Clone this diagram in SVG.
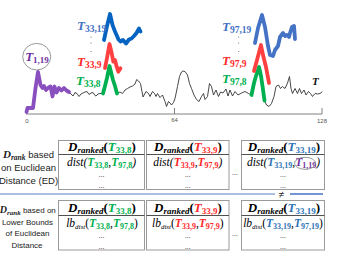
<svg xmlns="http://www.w3.org/2000/svg" width="344" height="255" viewBox="0 0 344 255">
<style>
.ser{font-family:"Liberation Serif","DejaVu Serif",serif}
.sans{font-family:"Liberation Sans",Arial,sans-serif}
.bi{font-weight:bold;font-style:italic}
.b{font-weight:bold}
.i{font-style:italic}
.g{fill:#00b050}
.r{fill:#ff2a2a}
.bl{fill:#2e75b6}
.pu{fill:#7030a0}
.ts{fill:none;stroke-linejoin:round;stroke-linecap:round}
.box{fill:#fff;stroke:#9a9a9a;stroke-width:1}
.sep{stroke:#505050;stroke-width:1}
.dots{font-family:"Liberation Serif",serif;font-size:8px;fill:#333;text-anchor:middle}
.lbl{font-family:"Liberation Sans",Arial,sans-serif;font-size:9.5px;fill:#222;text-anchor:middle}
.lbl2{font-family:"Liberation Sans",Arial,sans-serif;font-size:8px;fill:#222;text-anchor:middle}
.ax{font-family:"Liberation Sans",Arial,sans-serif;font-size:6px;fill:#555;text-anchor:middle}
.hd{font-size:13px}
.row{font-size:11.5px}
</style>
<rect width="344" height="255" fill="#fff"/>

<g id="axis">
<line x1="26" y1="114" x2="322" y2="114" stroke="#808080" stroke-width="1"/>
<line x1="174.5" y1="108" x2="174.5" y2="114" stroke="#808080" stroke-width="1"/>
<line x1="322" y1="108" x2="322" y2="114" stroke="#808080" stroke-width="1"/>
<text class="ax" x="27" y="123">0</text>
<text class="ax" x="174.5" y="122">64</text>
<text class="ax" x="322" y="123">128</text>
</g>

<g id="series-T">
<polyline class="ts" stroke="#333" stroke-width="0.9" points="69,92 71,94 73,96 75,92.5 77,93.5 79,96.5 81,94 83,93 85,92 87,91.5 89,94.5 91,93 93,92.5 95,95.5 96,96 98,94 100,93.5 103,93.5 105.5,84 107,78 109.5,66 111,72 113,80 115,86 117,93.5 120,92 122.5,93.5 125,90 127.5,88.5 130,87 132.5,86 135,84 136.7,79.5 138.5,81 140.5,83.5 143,97 146,91.5 148.5,93.5 150,96.5 152.5,91.5 154.5,93.5 156,96.5 157.5,93.5 160,97.5 162.5,95 165,101.5 166.5,106.5 168.5,101.5 170,103 171.5,105 173.5,102.5 175,98.5 177.5,86.5 179.5,76.5 181.5,72 183,71 185,71.5 187.5,75 189.5,83.5 191.5,88.5 194,95 196.5,99.5 199,101.5 201.5,96.5 203.5,93.5 205,99.5 207.5,96.5 209.5,83.5 211.5,86.5 213.5,95 216,90 218.5,96.5 220.5,92 223,93 226,89 228,96 230,90 232.5,96 235,91.5 238,95 241.5,93 245,91.5 248.5,93.5 251.5,95 254,83 256,76 259,67 261,76 262.5,86 264.5,100.5 266.5,105 269,106.5 271.5,103.5 274,96.5 276,86.5 278.5,85 280.5,88.5 282.5,86.5 285,88.5 287.5,83 289.5,76.5 291,88.5 292.5,93.5 295,88.5 297.5,93.5 299.5,88.5 301.5,93.5 304,90 306,95 308.5,91.5 310.5,93.5 312.5,96.5 315,93.5 317.5,94 320,93.5 322,92"/>
<text class="ser bi" x="312" y="85" font-size="11" fill="#111">T</text>
</g>

<g id="T1_19">
<polyline class="ts" stroke="#8a4fbf" stroke-width="3.8" points="26.5,112 27.5,108 33,108 35.5,88 38,72 40.5,85 42.5,88 44,86 46,90 48.5,87.5 50.5,86.5 52.5,96.5 54.5,86.5 56.5,92.5 59,88 61.5,90.5 64,88 66.5,90.5 69,92"/>
<ellipse cx="36.7" cy="56.7" rx="14" ry="13.3" fill="none" stroke="#7f7f7f" stroke-width="0.8"/>
<text class="ser" x="37" y="61" text-anchor="middle"><tspan class="bi pu" font-size="13">T</tspan><tspan class="b pu" font-size="9" dy="2">1,19</tspan></text>
</g>

<g id="T33">
<polyline class="ts" stroke="#00b050" stroke-width="3.8" points="103,93.5 105.5,84 107,78 109.5,66 111,72 113,80 115,86 117,93.5"/>
<polyline class="ts" stroke="#ff4040" stroke-width="3.8" points="105,68 107,58 109.5,44 111.7,53.3 113.3,61.7 115,60 116.7,66.7 118.3,71.7 120.5,68.3"/>
<polyline class="ts" stroke="#0563c1" stroke-width="3.8" points="104,40 107,26 110,14 112.5,25 115,31.5 117,36 118.5,39.5 120.5,41.5 123,40 126,43.5 129,39.5 131.5,38.5 134,36 136.5,33 139,28.5 140.5,31.5"/>
<text class="ser" x="77" y="30"><tspan class="bi" font-size="13" fill="#4472c4">T</tspan><tspan class="b" font-size="9.5" dy="2" fill="#4472c4">33,19</tspan></text>
<circle cx="91" cy="37" r="0.6" fill="#666"/><circle cx="91" cy="43" r="0.6" fill="#666"/><circle cx="91" cy="51.5" r="0.6" fill="#666"/>
<text class="ser" x="77" y="66"><tspan class="bi r" font-size="13">T</tspan><tspan class="b r" font-size="9.5" dy="2">33,9</tspan></text>
<text class="ser" x="76" y="85"><tspan class="bi g" font-size="13">T</tspan><tspan class="b g" font-size="9.5" dy="2">33,8</tspan></text>
</g>

<g id="T97">
<polyline class="ts" stroke="#00b050" stroke-width="3.8" points="251.5,95 254,83 256,76 259,67 261,76 262.5,86 264.5,100.5"/>
<polyline class="ts" stroke="#ff4040" stroke-width="3.8" points="254,71 257,60 261,45 263,55 266,67 269,83"/>
<polyline class="ts" stroke="#4472c4" stroke-width="3.8" points="255,43 258,28 262,15 265,27 268,46 270,55 273,56 275,50 278,46 280,37 283,33 285,36 287,35 289,37 290,33 292,27 294,26 295,39"/>
<text class="ser" x="222" y="31"><tspan class="bi" font-size="13" fill="#4472c4">T</tspan><tspan class="b" font-size="9.5" dy="2" fill="#4472c4">97,19</tspan></text>
<circle cx="238.7" cy="37" r="0.6" fill="#666"/><circle cx="238.7" cy="43" r="0.6" fill="#666"/><circle cx="238.7" cy="51.5" r="0.6" fill="#666"/>
<text class="ser" x="222" y="65"><tspan class="bi r" font-size="13">T</tspan><tspan class="b r" font-size="9.5" dy="2">97,9</tspan></text>
<text class="ser" x="222" y="83"><tspan class="bi g" font-size="13">T</tspan><tspan class="b g" font-size="9.5" dy="2">97,8</tspan></text>
</g>

<g id="label-ed">
<text class="lbl" x="28.5" y="158"><tspan class="ser bi" font-size="11">D</tspan><tspan class="ser bi" font-size="7.5" dy="2">rank</tspan><tspan dy="-2"> based</tspan></text>
<text class="lbl" x="28.5" y="171">on Euclidean</text>
<text class="lbl" x="28.5" y="183.5">Distance (ED)</text>
</g>

<g id="label-lb">
<text class="lbl2" x="27.8" y="213"><tspan class="ser bi" font-size="10">D</tspan><tspan class="ser bi" font-size="7" dy="2">rank</tspan><tspan dy="-2"> based on</tspan></text>
<text class="lbl2" x="27.5" y="224.5">Lower Bounds</text>
<text class="lbl2" x="27.5" y="236">of Euclidean</text>
<text class="lbl2" x="27" y="247.5">Distance</text>
</g>

<g id="connectors">
<line x1="0" y1="194" x2="275" y2="194" stroke="#8eaadb" stroke-width="1.5"/>
<line x1="290" y1="194" x2="323" y2="194" stroke="#4472c4" stroke-width="1.5"/>
<text class="sans" x="281.5" y="197.5" font-size="10" text-anchor="middle" fill="#222">≠</text>
<text class="dots" x="235" y="175">...</text>
<text class="dots" x="235" y="236">...</text>
</g>

<g id="box-ed-1">
<rect class="box" x="58.5" y="140.5" width="86" height="49"/>
<line class="sep" x1="58.5" y1="154.5" x2="144.5" y2="154.5"/>
<text class="ser hd" x="102" y="151" text-anchor="middle"><tspan class="bi">D</tspan><tspan class="bi" font-size="9" dy="2">ranked</tspan><tspan class="b" dy="-2">(</tspan><tspan class="bi g">T</tspan><tspan class="b g" font-size="9" dy="2">33,8</tspan><tspan class="b" dy="-2">)</tspan></text>
<text class="ser row" x="101.5" y="166" text-anchor="middle"><tspan class="i">dist(</tspan><tspan class="bi g">T</tspan><tspan class="b g" font-size="8" dy="2">33,8</tspan><tspan dy="-2">,</tspan><tspan class="bi g">T</tspan><tspan class="b g" font-size="8" dy="2">97,8</tspan><tspan class="i" dy="-2">)</tspan></text>
<text class="dots" x="101.5" y="177">...</text>
<text class="dots" x="101.5" y="187.5">...</text>
</g>

<g id="box-ed-2">
<rect class="box" x="146.5" y="140.5" width="82.5" height="49"/>
<line class="sep" x1="146.5" y1="154.5" x2="229" y2="154.5"/>
<text class="ser hd" x="188" y="151" text-anchor="middle"><tspan class="bi">D</tspan><tspan class="bi" font-size="9" dy="2">ranked</tspan><tspan class="b" dy="-2">(</tspan><tspan class="bi r">T</tspan><tspan class="b r" font-size="9" dy="2">33,9</tspan><tspan class="b" dy="-2">)</tspan></text>
<text class="ser row" x="187.8" y="166" text-anchor="middle"><tspan class="i">dist(</tspan><tspan class="bi r">T</tspan><tspan class="b r" font-size="8" dy="2">33,9</tspan><tspan dy="-2">,</tspan><tspan class="bi r">T</tspan><tspan class="b r" font-size="8" dy="2">97,9</tspan><tspan class="i" dy="-2">)</tspan></text>
<text class="dots" x="187.8" y="177">...</text>
<text class="dots" x="187.8" y="187.5">...</text>
</g>

<g id="box-ed-3">
<rect class="box" x="241.5" y="140.5" width="83" height="49"/>
<line class="sep" x1="241.5" y1="154.5" x2="324.5" y2="154.5"/>
<text class="ser hd" x="284" y="151" text-anchor="middle"><tspan class="bi">D</tspan><tspan class="bi" font-size="9" dy="2">ranked</tspan><tspan class="b" dy="-2">(</tspan><tspan class="bi bl">T</tspan><tspan class="b bl" font-size="9" dy="2">33,19</tspan><tspan class="b" dy="-2">)</tspan></text>
<text class="ser row" x="283.5" y="166" text-anchor="middle"><tspan class="i">dist(</tspan><tspan class="bi bl">T</tspan><tspan class="b bl" font-size="8" dy="2">33,19</tspan><tspan dy="-2">,</tspan><tspan class="bi pu">T</tspan><tspan class="b pu" font-size="8" dy="2">1,19</tspan><tspan class="i" dy="-2">)</tspan></text>
<ellipse cx="305" cy="163.3" rx="10.5" ry="6" fill="none" stroke="#7f7f7f" stroke-width="0.8"/>
<text class="dots" x="283" y="177">...</text>
<text class="dots" x="283" y="187.5">...</text>
</g>

<g id="box-lb-1">
<rect class="box" x="58.5" y="200.5" width="86" height="49.5"/>
<line class="sep" x1="58.5" y1="215.5" x2="144.5" y2="215.5"/>
<text class="ser hd" x="102" y="212" text-anchor="middle"><tspan class="bi">D</tspan><tspan class="bi" font-size="9" dy="2">ranked</tspan><tspan class="b" dy="-2">(</tspan><tspan class="bi g">T</tspan><tspan class="b g" font-size="9" dy="2">33,8</tspan><tspan class="b" dy="-2">)</tspan></text>
<text class="ser row" x="102" y="226.5" text-anchor="middle"><tspan class="i">lb</tspan><tspan class="i" font-size="7" dy="2">dist</tspan><tspan dy="-2">(</tspan><tspan class="bi g">T</tspan><tspan class="b g" font-size="8" dy="2">33,8</tspan><tspan dy="-2">,</tspan><tspan class="bi g">T</tspan><tspan class="b g" font-size="8" dy="2">97,8</tspan><tspan dy="-2">)</tspan></text>
<text class="dots" x="101.5" y="238">...</text>
<text class="dots" x="101.5" y="249">...</text>
</g>

<g id="box-lb-2">
<rect class="box" x="146.5" y="200.5" width="82.5" height="49.5"/>
<line class="sep" x1="146.5" y1="215.5" x2="229" y2="215.5"/>
<text class="ser hd" x="188" y="212" text-anchor="middle"><tspan class="bi">D</tspan><tspan class="bi" font-size="9" dy="2">ranked</tspan><tspan class="b" dy="-2">(</tspan><tspan class="bi r">T</tspan><tspan class="b r" font-size="9" dy="2">33,9</tspan><tspan class="b" dy="-2">)</tspan></text>
<text class="ser row" x="187.8" y="226.5" text-anchor="middle"><tspan class="i">lb</tspan><tspan class="i" font-size="7" dy="2">dist</tspan><tspan dy="-2">(</tspan><tspan class="bi r">T</tspan><tspan class="b r" font-size="8" dy="2">33,9</tspan><tspan dy="-2">,</tspan><tspan class="bi r">T</tspan><tspan class="b r" font-size="8" dy="2">97,9</tspan><tspan dy="-2">)</tspan></text>
<text class="dots" x="187.8" y="238">...</text>
<text class="dots" x="187.8" y="249">...</text>
</g>

<g id="box-lb-3">
<rect class="box" x="241.5" y="200.5" width="83" height="49.5"/>
<line class="sep" x1="241.5" y1="215.5" x2="324.5" y2="215.5"/>
<text class="ser hd" x="284" y="212" text-anchor="middle"><tspan class="bi">D</tspan><tspan class="bi" font-size="9" dy="2">ranked</tspan><tspan class="b" dy="-2">(</tspan><tspan class="bi bl">T</tspan><tspan class="b bl" font-size="9" dy="2">33,19</tspan><tspan class="b" dy="-2">)</tspan></text>
<text class="ser row" x="283" y="226.5" text-anchor="middle"><tspan class="i">lb</tspan><tspan class="i" font-size="7" dy="2">dist</tspan><tspan dy="-2">(</tspan><tspan class="bi bl">T</tspan><tspan class="b bl" font-size="8" dy="2">33,19</tspan><tspan dy="-2">,</tspan><tspan class="bi bl">T</tspan><tspan class="b bl" font-size="8" dy="2">97,19</tspan><tspan dy="-2">)</tspan></text>
<text class="dots" x="283" y="238">...</text>
<text class="dots" x="283" y="249">...</text>
</g>
</svg>
